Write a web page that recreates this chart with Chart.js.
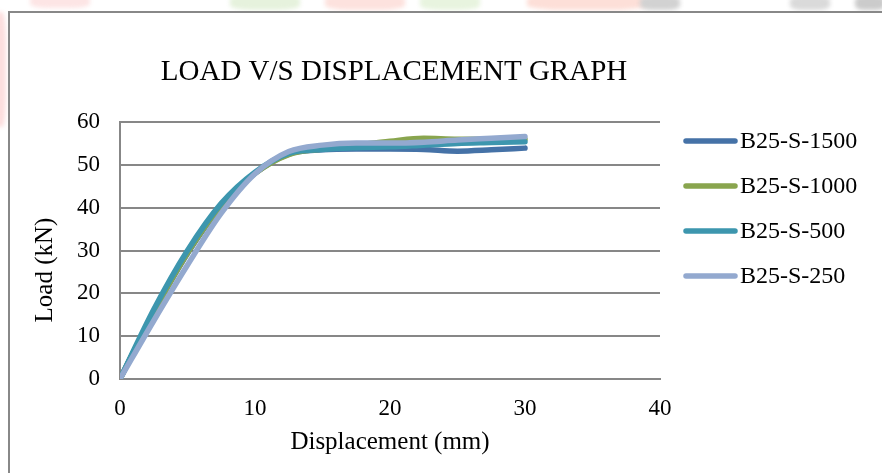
<!DOCTYPE html>
<html>
<head>
<meta charset="utf-8">
<title>Load v/s Displacement</title>
<script src="https://cdn.jsdelivr.net/npm/chart.js@4.4.1/dist/chart.umd.min.js"></script>
<style>
  html, body { margin: 0; padding: 0; background: #fff; }
  body { width: 882px; height: 473px; position: relative; overflow: hidden; }
  .wm { position: absolute; border-radius: 30%; filter: blur(2px); }
  #frame {
    position: absolute; left: 8px; top: 11px; width: 900px; height: 480px;
    background: #fff; border-left: 2px solid #888; border-top: 2px solid #888;
  }
  #wrap { position: absolute; left: 0; top: 0; width: 882px; height: 473px; }
</style>
</head>
<body>
<!-- faint logo colours showing behind the page edge -->
<div class="wm" style="left:-6px;top:12px;width:12px;height:115px;background:#fcdede;"></div>
<div class="wm" style="left:30px;top:-6px;width:60px;height:14px;background:#fde5e5;"></div>
<div class="wm" style="left:230px;top:-6px;width:70px;height:16px;background:#e6f2dd;"></div>
<div class="wm" style="left:325px;top:-6px;width:80px;height:16px;background:#fde2de;"></div>
<div class="wm" style="left:420px;top:-6px;width:60px;height:16px;background:#e8f4df;"></div>
<div class="wm" style="left:527px;top:-6px;width:120px;height:16px;background:#fddfd8;"></div>
<div class="wm" style="left:640px;top:-4px;width:40px;height:14px;background:#d2d2d2;"></div>
<div class="wm" style="left:790px;top:-4px;width:40px;height:14px;background:#dadada;"></div>
<div class="wm" style="left:855px;top:-4px;width:30px;height:14px;background:#cbcbcb;"></div>
<div id="frame"></div>
<div id="wrap"><canvas id="chart" width="882" height="473"></canvas></div>
<script>
// displacement readings (mm)
const displacement = [0, 2.5, 5, 7.5, 10, 12.5, 15, 17.5, 20, 22.5, 25, 27.5, 30];

// load readings (kN) for each specimen
const loadS1500 = [0, 15.6, 29.3, 40.4, 48.0, 52.5, 53.5, 53.7, 53.7, 53.6, 53.2, 53.5, 53.9];
const loadS1000 = [0, 15.6, 29.4, 40.5, 48.0, 52.4, 53.7, 54.6, 55.5, 56.2, 56.0, 56.0, 56.0];
const loadS500  = [0, 16.2, 30.0, 41.0, 48.3, 52.7, 53.6, 54.0, 54.2, 54.6, 55.0, 55.2, 55.4];
const loadS250  = [0, 13.6, 26.6, 38.7, 47.9, 53.1, 54.6, 55.1, 55.1, 55.3, 55.8, 56.2, 56.6];

const seriesNames = ['B25-S-1500', 'B25-S-1000', 'B25-S-500', 'B25-S-250'];
const seriesColors = ['#4572a7', '#89a54e', '#3d96ae', '#93a9cf'];
const seriesLoads = [loadS1500, loadS1000, loadS500, loadS250];

const xTicks = [0, 10, 20, 30, 40];
const yTicks = [0, 10, 20, 30, 40, 50, 60];

const FONT = '"Liberation Serif", "Times New Roman", serif';
const GRID = '#878787';

function toPoints(loads) {
    return displacement.map((d, i) => ({ x: d, y: loads[i] }));
}

// later series are painted over earlier ones (lower order = on top)
const datasets = seriesNames.map((name, i) => ({
    label: name,
    data: toPoints(seriesLoads[i]),
    order: seriesNames.length - 1 - i,
    borderColor: seriesColors[i],
    backgroundColor: seriesColors[i],
    borderWidth: 5.5,
    borderCapStyle: 'round',
    borderJoinStyle: 'round',
    cubicInterpolationMode: 'monotone',
    pointRadius: 0,
    fill: false
}));

// title, axis titles and legend placed by hand
const textLayer = {
    id: 'textLayer',
    afterDraw(chart) {
        const ctx = chart.ctx;
        ctx.save();
        ctx.fillStyle = '#000';
        ctx.textBaseline = 'middle';

        ctx.font = '29px ' + FONT;
        ctx.textAlign = 'center';
        ctx.fillText('LOAD V/S DISPLACEMENT GRAPH', 394, 72);

        ctx.font = '25px ' + FONT;
        ctx.fillText('Displacement (mm)', 390, 442);

        ctx.save();
        ctx.translate(45, 270);
        ctx.rotate(-Math.PI / 2);
        ctx.fillText('Load (kN)', 0, 0);
        ctx.restore();

        ctx.font = '24px ' + FONT;
        ctx.textAlign = 'left';
        chart.data.datasets.forEach((ds, i) => {
            const y = 141 + i * 45;
            ctx.strokeStyle = ds.borderColor;
            ctx.lineWidth = 5.5;
            ctx.lineCap = 'round';
            ctx.beginPath();
            ctx.moveTo(686, y);
            ctx.lineTo(735, y);
            ctx.stroke();
            ctx.fillText(ds.label, 740, y + 1);
        });
        ctx.restore();
    }
};

new Chart(document.getElementById('chart'), {
    type: 'line',
    data: { datasets: datasets },
    options: {
        responsive: false,
        animation: false,
        layout: { padding: { left: 0, top: 122, right: 222, bottom: 0 } },
        plugins: {
            legend: { display: false },
            title: { display: false },
            tooltip: { enabled: false }
        },
        scales: {
            x: {
                type: 'linear',
                min: 0,
                max: 40,
                afterBuildTicks: s => { s.ticks = xTicks.map(v => ({ value: v })); },
                afterFit: s => { s.height = 94; },
                grid: { display: false, drawTicks: false },
                border: { display: true, color: GRID, width: 2 },
                ticks: { color: '#000', padding: 16, font: { family: FONT, size: 23 } }
            },
            y: {
                min: 0,
                max: 60,
                afterBuildTicks: s => { s.ticks = yTicks.map(v => ({ value: v })); },
                afterFit: s => { s.width = 120; },
                grid: { color: GRID, lineWidth: 2, drawTicks: false },
                border: { display: true, color: GRID, width: 2 },
                ticks: { color: '#000', padding: 20, font: { family: FONT, size: 23 } }
            }
        }
    },
    plugins: [textLayer]
});
</script>
</body>
</html>
